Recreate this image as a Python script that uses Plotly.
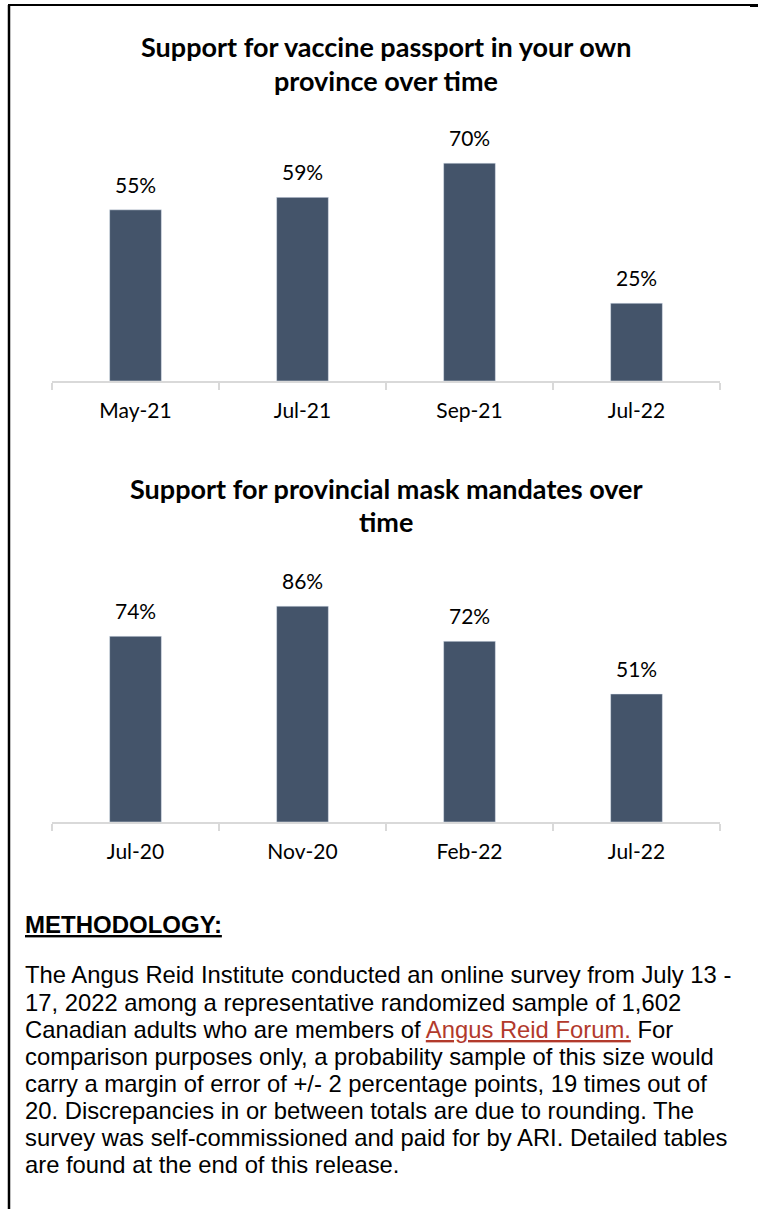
import plotly.graph_objects as go

W, H = 758, 1209

# Support for vaccine passport in own province
passport_dates = ["May-21", "Jul-21", "Sep-21", "Jul-22"]
passport_support = [55, 59, 70, 25]

# Support for provincial mask mandates
mask_dates = ["Jul-20", "Nov-20", "Feb-22", "Jul-22"]
mask_support = [74, 86, 72, 51]

title_passport = ["Support for vaccine passport in your own", "province over time"]
title_mask = ["Support for provincial mask mandates over", "time"]

method_heading = "METHODOLOGY:"
method_lines = [
    "The Angus Reid Institute conducted an online survey from July 13 -",
    "17, 2022 among a representative randomized sample of 1,602",
    "Canadian adults who are members of <span style='color:#B23A2C'><u>Angus Reid Forum.</u></span> For",
    "comparison purposes only, a probability sample of this size would",
    "carry a margin of error of +/- 2 percentage points, 19 times out of",
    "20. Discrepancies in or between totals are due to rounding. The",
    "survey was self-commissioned and paid for by ARI. Detailed tables",
    "are found at the end of this release.",
]

BAR = "#44546A"
AXIS = "#D9D9D9"
CAL = "Lato, 'Open Sans', sans-serif"
ARIAL = "'Liberation Sans', Arial, sans-serif"


def px(x):
    return x / W


def py(y):
    return 1 - y / H


fig = go.Figure()

fig.add_trace(go.Bar(x=passport_dates, y=passport_support, marker_color=BAR,
                     width=0.31, xaxis="x", yaxis="y", hoverinfo="x+y"))
fig.add_trace(go.Bar(x=mask_dates, y=mask_support, marker_color=BAR,
                     width=0.31, xaxis="x2", yaxis="y2", hoverinfo="x+y"))

xcommon = dict(
    type="category", range=[-0.5, 3.5], showline=True, linecolor=AXIS, linewidth=1.5,
    ticks="outside", tickson="boundaries", ticklen=7, tickcolor=AXIS, tickwidth=1.5,
    showgrid=False, zeroline=False, fixedrange=True,
    tickfont=dict(family=CAL, size=21, color="#000000"), ticklabelstandoff=10,
)

fig.update_layout(
    width=W, height=H, margin=dict(l=0, r=0, t=0, b=0),
    paper_bgcolor="white", plot_bgcolor="white", showlegend=False,
    xaxis=dict(domain=[px(52), px(720)], anchor="y", **xcommon),
    yaxis=dict(domain=[py(381), py(132)], range=[0, 80], visible=False, fixedrange=True),
    xaxis2=dict(domain=[px(52), px(720)], anchor="y2", **xcommon),
    yaxis2=dict(domain=[py(822), py(571)], range=[0, 100], visible=False, fixedrange=True),
)

annotations = []

# value labels above each bar
for xs, ys, xr, yr in [(passport_dates, passport_support, "x", "y"),
                       (mask_dates, mask_support, "x2", "y2")]:
    for c, v in zip(xs, ys):
        annotations.append(dict(x=c, y=v, xref=xr, yref=yr, text=f"{v}%",
                                showarrow=False, yanchor="bottom", yshift=11,
                                font=dict(family=CAL, size=21, color="#000000")))

# chart titles
for lines, ys in [(title_passport, [46, 81]), (title_mask, [488, 521])]:
    for t, yy in zip(lines, ys):
        annotations.append(dict(x=px(386), y=py(yy), xref="paper", yref="paper",
                                text=f"<b>{t}</b>", showarrow=False,
                                xanchor="center", yanchor="middle",
                                font=dict(family=CAL, size=27, color="#000000")))

# methodology block
annotations.append(dict(x=px(23), y=py(924), xref="paper", yref="paper",
                        text=f"<b><u>{method_heading}</u></b>", showarrow=False,
                        xanchor="left", yanchor="middle",
                        font=dict(family=ARIAL, size=24, color="#000000")))
for i, line in enumerate(method_lines):
    annotations.append(dict(x=px(23), y=py(975 + i * 27.1), xref="paper", yref="paper",
                            text=line, showarrow=False, xanchor="left", yanchor="middle",
                            font=dict(family=ARIAL, size=23.8, color="#000000")))

fig.update_layout(annotations=annotations)

# page frame lines
fig.add_shape(type="line", xref="paper", yref="paper", x0=px(9), x1=px(9),
              y0=py(5), y1=py(1209), line=dict(color="#000000", width=2.5))
fig.add_shape(type="line", xref="paper", yref="paper", x0=px(8), x1=px(752),
              y0=py(5), y1=py(5), line=dict(color="#000000", width=2))
fig.add_shape(type="line", xref="paper", yref="paper", x0=px(750), x1=px(758),
              y0=py(5.5), y1=py(5.5), line=dict(color="#000000", width=3))

fig.write_html("out.html", config={"displayModeBar": False})
